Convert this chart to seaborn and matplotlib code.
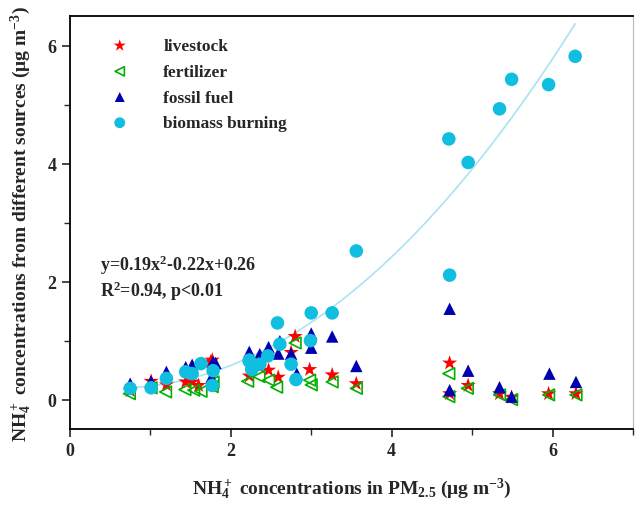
import numpy as np
import pandas as pd
import matplotlib
matplotlib.use("Agg")
import matplotlib.pyplot as plt
from matplotlib.ticker import MultipleLocator
import seaborn as sns

# ---- data ----
bio_x = [0.75, 1.01, 1.20, 1.44, 1.52, 1.63, 1.78, 1.77, 2.23, 2.23, 2.26, 2.36, 2.46, 2.58,
         2.61, 2.75, 2.81, 2.99, 3.00, 3.26, 3.56, 4.71, 4.72, 4.95, 5.34, 5.49, 5.95, 6.28]
bio_y = [0.19, 0.20, 0.36, 0.47, 0.44, 0.61, 0.49, 0.24, 0.67, 0.65, 0.51, 0.60, 0.74, 1.30,
         0.94, 0.60, 0.34, 1.00, 1.47, 1.47, 2.52, 4.42, 2.11, 4.02, 4.93, 5.43, 5.34, 5.82]

fos_x = [0.75, 1.01, 1.20, 1.44, 1.52, 1.81, 1.76, 1.78, 2.23, 2.36, 2.47, 2.59, 2.61, 2.75,
         2.82, 3.00, 3.00, 3.26, 3.56, 4.72, 4.72, 4.95, 5.34, 5.49, 5.96, 6.29]
fos_y = [0.27, 0.31, 0.47, 0.55, 0.59, 0.62, 0.38, 0.64, 0.81, 0.77, 0.89, 0.78, 0.99, 0.78,
         0.44, 1.12, 0.88, 1.07, 0.57, 1.54, 0.16, 0.49, 0.21, 0.05, 0.44, 0.30]

liv_x = [0.75, 1.01, 1.20, 1.44, 1.52, 1.60, 1.77, 1.75, 2.23, 2.36, 2.47, 2.59, 2.75, 2.80,
         2.98, 3.26, 3.56, 4.72, 4.72, 4.95, 5.34, 5.49, 5.95, 6.29]
liv_y = [0.15, 0.31, 0.25, 0.30, 0.30, 0.24, 0.67, 0.64, 0.40, 0.55, 0.50, 0.38, 0.80, 1.07,
         0.51, 0.42, 0.27, 0.62, 0.10, 0.24, 0.10, 0.04, 0.10, 0.10]

fer_x = [0.74, 1.01, 1.19, 1.43, 1.54, 1.63, 1.78, 1.77, 2.21, 2.35, 2.47, 2.57, 2.80, 2.98,
         3.00, 3.26, 3.56, 4.71, 4.71, 4.94, 5.34, 5.49, 5.95, 6.29]
fer_y = [0.10, 0.20, 0.13, 0.17, 0.16, 0.14, 0.30, 0.22, 0.31, 0.39, 0.33, 0.21, 0.96, 0.33,
         0.25, 0.30, 0.19, 0.44, 0.05, 0.19, 0.08, 0.00, 0.08, 0.08]

fit_coef = [0.19, -0.22, 0.26]
fit_range = [0.75, 6.28]

labels = ["livestock", "fertilizer", "fossil fuel", "biomass burning"]

# ---- style ----
sns.set_style("ticks")
plt.rcParams["font.family"] = ["Liberation Serif", "DejaVu Serif"]
plt.rcParams["font.weight"] = "bold"
plt.rcParams["mathtext.fontset"] = "custom"
plt.rcParams["mathtext.rm"] = "Liberation Serif:bold"
plt.rcParams["mathtext.it"] = "Liberation Serif:bold"
plt.rcParams["mathtext.bf"] = "Liberation Serif:bold"
plt.rcParams["mathtext.default"] = "rm"

fig = plt.figure(figsize=(6.35, 5.06), dpi=100)
ax = fig.add_axes([0.110, 0.150, 0.887, 0.816])

fx = np.linspace(fit_range[0], fit_range[1], 200)
fit_df = pd.DataFrame({"x": fx, "y": np.polyval(fit_coef, fx)})
sns.lineplot(data=fit_df, x="x", y="y", ax=ax, color="#a8e4f0", lw=1.2, zorder=1)

sns.scatterplot(x=fer_x, y=fer_y, ax=ax, marker="<", s=70, facecolors="none",
                edgecolor="#00b000", linewidth=1.2, label=labels[1], zorder=3)
sns.scatterplot(x=liv_x, y=liv_y, ax=ax, marker="*", s=130, color="#ff0000",
                edgecolor="none", label=labels[0], zorder=2)
sns.scatterplot(x=fos_x, y=fos_y, ax=ax, marker="^", s=80, color="#0000b0",
                edgecolor="none", label=labels[2], zorder=4)
sns.scatterplot(x=bio_x, y=bio_y, ax=ax, marker="o", s=95, color="#10bfdf",
                edgecolor="none", label=labels[3], zorder=5)

ax.set_xlim(0, 7)
ax.set_ylim(-0.5, 6.5)
ax.xaxis.set_major_locator(MultipleLocator(2))
ax.xaxis.set_minor_locator(MultipleLocator(1))
ax.yaxis.set_major_locator(MultipleLocator(2))
ax.yaxis.set_minor_locator(MultipleLocator(1))
ax.tick_params(which="major", direction="out", length=6, width=1.2, labelsize=13)
ax.tick_params(which="minor", direction="out", length=4, width=1.0)
for lab in ax.get_xticklabels() + ax.get_yticklabels():
    lab.set_fontweight("bold")
for side in ["left", "bottom", "top"]:
    ax.spines[side].set_linewidth(1.3)
    ax.spines[side].set_color("black")
ax.spines["right"].set_color("#bbbbbb")
ax.spines["top"].set_visible(True)
ax.spines["right"].set_visible(True)

ax.set_xlabel(r"NH$_4^+$ concentrations in PM$_{2.5}$ (μg m$^{-3}$)", fontsize=14,
              fontweight="bold", labelpad=12)
ax.set_ylabel(r"NH$_4^+$ concentrations from different sources (μg m$^{-3}$)", fontsize=14,
              fontweight="bold", labelpad=10)

ax.text(0.37, 2.2, r"y=0.19x$^2$-0.22x+0.26", fontsize=13, fontweight="bold")
ax.text(0.37, 1.75, r"R$^2$=0.94, p<0.01", fontsize=13, fontweight="bold")

handles, labs = ax.get_legend_handles_labels()
order = [labs.index(l) for l in labels]
ax.legend([handles[i] for i in order], [labs[i] for i in order], loc="upper left",
          bbox_to_anchor=(0.03, 0.985), frameon=False, prop={"weight": "bold", "size": 12.5},
          handletextpad=1.5, labelspacing=0.55, markerscale=0.8)

fig.savefig("out.png", dpi=100)
